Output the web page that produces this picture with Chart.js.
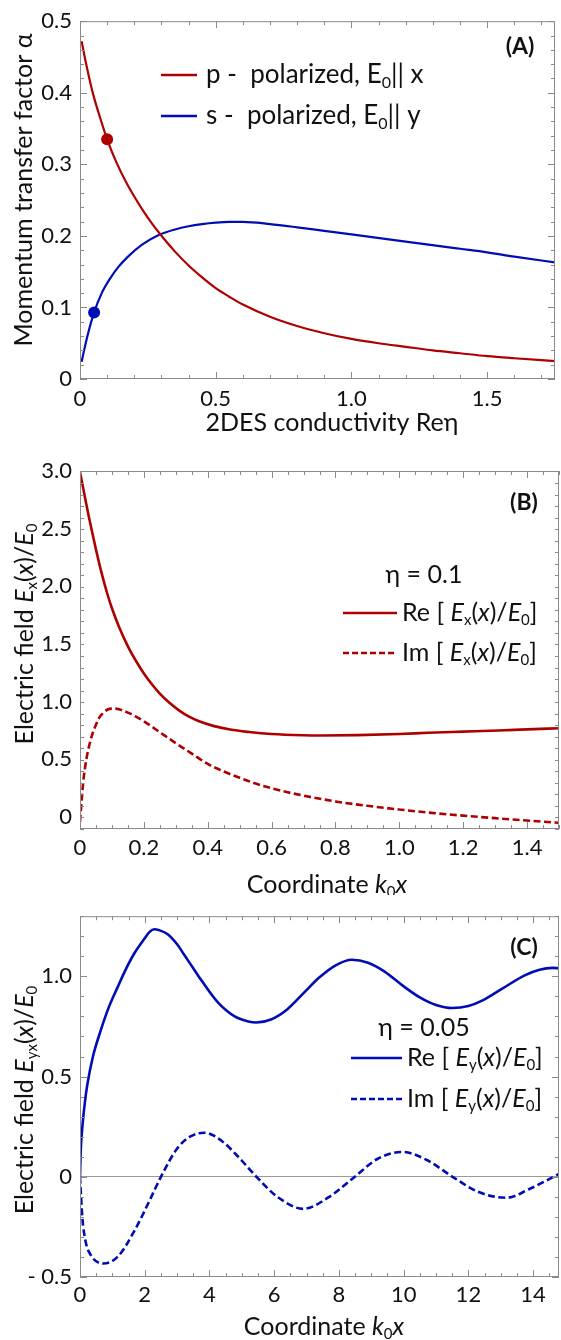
<!DOCTYPE html>
<html>
<head>
<meta charset="utf-8">
<script src="https://cdn.jsdelivr.net/npm/chart.js@4/dist/chart.umd.min.js"></script>
<style>
    body { margin: 0; background: #fff; }
    .panel { position: absolute; left: 0; width: 561px; }
</style>
</head>
<body>
<div class="panel" style="top:0;height:440px"><canvas id="chartA"></canvas></div>
<div class="panel" style="top:440px;height:455px"><canvas id="chartB"></canvas></div>
<div class="panel" style="top:895px;height:445px"><canvas id="chartC"></canvas></div>
<script>
// ---- Panel A data: momentum transfer factor vs Re eta ----
const etaP = [0.006, 0.02, 0.035, 0.049, 0.075, 0.1, 0.135, 0.174, 0.2, 0.231, 0.26, 0.292, 0.35, 0.402, 0.45, 0.5, 0.55, 0.6, 0.7, 0.8, 0.9, 1.0, 1.1, 1.2, 1.3, 1.4, 1.5, 1.6, 1.75];
const alphaP = [0.472, 0.445, 0.419, 0.397, 0.364, 0.335, 0.302, 0.272, 0.255, 0.236, 0.22, 0.204, 0.178, 0.158, 0.142, 0.127, 0.115, 0.104, 0.087, 0.074, 0.064, 0.056, 0.05, 0.045, 0.04, 0.036, 0.032, 0.029, 0.025];
const etaS = [0.006, 0.015, 0.03, 0.052, 0.08, 0.11, 0.14, 0.174, 0.23, 0.292, 0.35, 0.4, 0.45, 0.5, 0.55, 0.6, 0.7, 0.8, 0.9, 1.0, 1.2, 1.4, 1.5, 1.6, 1.75];
const alphaS = [0.024, 0.04, 0.064, 0.093, 0.12, 0.14, 0.156, 0.17, 0.188, 0.2015, 0.209, 0.2135, 0.2165, 0.2185, 0.2195, 0.2195, 0.2165, 0.212, 0.207, 0.202, 0.192, 0.182, 0.177, 0.171, 0.163];
const dotP = [0.1, 0.335];
const dotS = [0.052, 0.093];
const ticksAX = [0, 0.5, 1.0, 1.5];
const labelsAX = ['0', '0.5', '1.0', '1.5'];
const ticksAY = [0, 0.1, 0.2, 0.3, 0.4, 0.5];
const labelsAY = ['0', '0.1', '0.2', '0.3', '0.4', '0.5'];

// ---- Panel B data: E_x(x)/E_0 for eta = 0.1 ----
const xBRe = [0, 0.01, 0.02, 0.028, 0.04, 0.05, 0.06, 0.07, 0.085, 0.1, 0.122, 0.15, 0.175, 0.2, 0.227, 0.25, 0.28, 0.31, 0.34, 0.373, 0.42, 0.47, 0.53, 0.6, 0.7, 0.75, 0.87, 1.0, 1.09, 1.2, 1.31, 1.4, 1.5];
const reB = [2.99, 2.85, 2.71, 2.6, 2.445, 2.32, 2.2, 2.09, 1.94, 1.81, 1.65, 1.48, 1.355, 1.245, 1.145, 1.07, 0.99, 0.925, 0.872, 0.83, 0.788, 0.758, 0.737, 0.72, 0.709, 0.707, 0.71, 0.72, 0.73, 0.74, 0.75, 0.76, 0.77];
const xBIm = [0, 0.01, 0.02, 0.028, 0.04, 0.05, 0.06, 0.072, 0.085, 0.1, 0.11, 0.122, 0.15, 0.175, 0.2, 0.25, 0.3, 0.35, 0.4, 0.45, 0.5, 0.55, 0.6, 0.65, 0.7, 0.8, 0.9, 1.0, 1.1, 1.2, 1.3, 1.4, 1.5];
const imB = [-0.04, 0.3, 0.5, 0.61, 0.73, 0.8, 0.86, 0.9, 0.93, 0.94, 0.94, 0.935, 0.905, 0.87, 0.83, 0.735, 0.64, 0.55, 0.46, 0.395, 0.34, 0.29, 0.25, 0.215, 0.185, 0.135, 0.097, 0.065, 0.036, 0.012, -0.01, -0.03, -0.05];
const ticksBX = [0, 0.2, 0.4, 0.6, 0.8, 1.0, 1.2, 1.4];
const labelsBX = ['0', '0.2', '0.4', '0.6', '0.8', '1.0', '1.2', '1.4'];
const ticksBY = [0, 0.5, 1.0, 1.5, 2.0, 2.5, 3.0];
const labelsBY = ['0', '0.5', '1.0', '1.5', '2.0', '2.5', '3.0'];

// ---- Panel C data: E_y(x)/E_0 for eta = 0.05 ----
const xCRe = [0, 0.02, 0.071, 0.15, 0.227, 0.4, 0.64, 0.9, 1.16, 1.4, 1.68, 2.0, 2.15, 2.3, 2.45, 2.71, 3.0, 3.23, 3.5, 3.75, 4.26, 4.78, 5.2, 5.45, 5.9, 6.4, 6.9, 7.4, 7.9, 8.4, 8.9, 9.4, 9.96, 10.5, 11.0, 11.5, 12.0, 12.44, 13.06, 13.74, 14.2, 14.6, 14.8];
const reC = [0, 0.12, 0.245, 0.37, 0.46, 0.6, 0.73, 0.85, 0.945, 1.03, 1.115, 1.19, 1.222, 1.235, 1.23, 1.21, 1.16, 1.105, 1.04, 0.98, 0.87, 0.8, 0.775, 0.77, 0.785, 0.835, 0.915, 0.995, 1.055, 1.083, 1.068, 1.025, 0.955, 0.895, 0.857, 0.842, 0.852, 0.88, 0.94, 1.005, 1.033, 1.042, 1.04];
const xCIm = [0, 0.07, 0.17, 0.33, 0.72, 1.16, 1.68, 2.19, 2.5, 3.02, 3.4, 3.85, 4.37, 4.8, 5.2, 5.45, 6.1, 6.9, 7.7, 8.49, 9.2, 9.96, 10.7, 11.51, 12.3, 13.17, 13.9, 14.4, 14.8];
const imC = [0, -0.2, -0.32, -0.39, -0.433, -0.4, -0.27, -0.105, 0, 0.145, 0.2, 0.22, 0.18, 0.115, 0.045, 0, -0.1, -0.16, -0.1, 0, 0.09, 0.124, 0.085, 0, -0.075, -0.105, -0.06, -0.02, 0.015];
const ticksCX = [0, 2, 4, 6, 8, 10, 12, 14];
const labelsCX = ['0', '2', '4', '6', '8', '10', '12', '14'];
const ticksCY = [-0.5, 0, 0.5, 1.0];
const labelsCY = ['- 0.5', '0', '0.5', '1.0'];

const RED = 'rgb(175, 0, 0)';
const BLUE = 'rgb(0, 12, 180)';
const FRAME = '#8a8a8a';
const FAMILY = 'Lato, "Open Sans", sans-serif';

function toPoints(xs, ys) {
    return xs.map((x, i) => ({ x: x, y: ys[i] }));
}

// Text with italic / subscript pieces: parts = [[text, style]], style has i, s, b
function drawRich(ctx, parts, x, y, size, align) {
    const fontFor = st => (st.includes('i') ? 'italic ' : '') + (st.includes('b') ? 'bold ' : '') +
        Math.round(st.includes('s') ? size * 0.6 : size) + 'px ' + FAMILY;
    let w = 0;
    parts.forEach(([t, st]) => { ctx.font = fontFor(st); w += ctx.measureText(t).width; });
    let cx = align === 'center' ? x - w / 2 : (align === 'right' ? x - w : x);
    ctx.textAlign = 'left';
    ctx.textBaseline = 'middle';
    ctx.fillStyle = '#111';
    parts.forEach(([t, st]) => {
        ctx.font = fontFor(st);
        ctx.fillText(t, cx, y + (st.includes('s') ? size * 0.3 : 0));
        cx += ctx.measureText(t).width;
    });
}

// Mathematica style frame with inward ticks on all four sides
const framePlugin = {
    id: 'frame',
    afterDatasetsDraw(chart, args, opts) {
        const { ctx, chartArea: a } = chart;
        const xs = chart.scales.x, ys = chart.scales.y;
        ctx.save();
        ctx.strokeStyle = FRAME;
        ctx.lineWidth = 1;
        ctx.strokeRect(a.left + 0.5, a.top + 0.5, a.right - a.left - 1, a.bottom - a.top - 1);
        const near = (v, list) => list.some(m => Math.abs(m - v) < 1e-6);
        ctx.beginPath();
        for (let v = xs.min; v <= xs.max + 1e-9; v += opts.xMinor) {
            const len = near(v, opts.xMajor) ? 7 : 4;
            const px = Math.round(xs.getPixelForValue(v)) + 0.5;
            ctx.moveTo(px, a.bottom); ctx.lineTo(px, a.bottom - len);
            ctx.moveTo(px, a.top); ctx.lineTo(px, a.top + len);
        }
        for (let v = ys.min; v <= ys.max + 1e-9; v += opts.yMinor) {
            const len = near(v, opts.yMajor) ? 7 : 4;
            const py = Math.round(ys.getPixelForValue(v)) + 0.5;
            ctx.moveTo(a.left, py); ctx.lineTo(a.left + len, py);
            ctx.moveTo(a.right, py); ctx.lineTo(a.right - len, py);
        }
        ctx.stroke();
        ctx.restore();
    }
};

// Axis titles, legend and panel letters
const notesPlugin = {
    id: 'notes',
    afterDraw(chart, args, opts) {
        const ctx = chart.ctx;
        ctx.save();
        (opts.lines || []).forEach(l => {
            ctx.beginPath();
            ctx.strokeStyle = l.color;
            ctx.lineWidth = 2.5;
            ctx.setLineDash(l.dash || []);
            ctx.moveTo(l.x1, l.y); ctx.lineTo(l.x2, l.y);
            ctx.stroke();
        });
        ctx.setLineDash([]);
        (opts.texts || []).forEach(t => {
            ctx.save();
            ctx.translate(t.x, t.y);
            if (t.rotate) ctx.rotate(-Math.PI / 2);
            drawRich(ctx, t.parts, 0, 0, t.size, t.align || 'left');
            ctx.restore();
        });
        ctx.restore();
    }
};

function makeScales(xMin, xMax, xTicks, xLabels, xHeight, xPad, yMin, yMax, yTicks, yLabels, zeroLine) {
    const tickFont = { family: FAMILY, size: 22 };
    return {
        x: {
            type: 'linear', min: xMin, max: xMax,
            grid: { display: false, drawTicks: false },
            border: { display: false },
            afterBuildTicks: s => { s.ticks = xTicks.map(v => ({ value: v })); },
            ticks: { font: tickFont, color: '#111', padding: xPad, maxRotation: 0, autoSkip: false,
                callback: (v, i) => xLabels[i] },
            afterFit: s => { s.height = xHeight; }
        },
        y: {
            type: 'linear', min: yMin, max: yMax,
            grid: {
                display: zeroLine, drawTicks: false,
                color: c => (c.tick && c.tick.value === 0) ? '#999' : 'rgba(0,0,0,0)'
            },
            border: { display: false },
            afterBuildTicks: s => { s.ticks = yTicks.map(v => ({ value: v })); },
            ticks: { font: tickFont, color: '#111', padding: 8, autoSkip: false,
                callback: (v, i) => yLabels[i] },
            afterFit: s => { s.width = 80; }
        }
    };
}

function lineSet(xs, ys, color, dash, width) {
    return {
        data: toPoints(xs, ys),
        borderColor: color,
        borderWidth: width,
        borderDash: dash,
        pointRadius: 0,
        fill: false,
        cubicInterpolationMode: 'monotone'
    };
}

const EX = [['E', 'i'], ['x', 's'], ['(', ''], ['x', 'i'], [')/', ''], ['E', 'i'], ['0', 's']];
const EY = [['E', 'i'], ['y', 's'], ['(', ''], ['x', 'i'], [')/', ''], ['E', 'i'], ['0', 's']];
const COORD = [['Coordinate ', ''], ['k', 'i'], ['0', 's'], ['x', 'i']];

// Panel A
function initializePanelA() {
    new Chart(document.getElementById('chartA'), {
        type: 'line',
        data: {
            datasets: [
                lineSet(etaP, alphaP, RED, [], 2.2),
                lineSet(etaS, alphaS, BLUE, [], 2.2),
                { data: [{ x: dotP[0], y: dotP[1] }], pointRadius: 6, pointBackgroundColor: RED, pointBorderWidth: 0, showLine: false },
                { data: [{ x: dotS[0], y: dotS[1] }], pointRadius: 6, pointBackgroundColor: BLUE, pointBorderWidth: 0, showLine: false }
            ]
        },
        options: {
            responsive: true,
            maintainAspectRatio: false,
            animation: false,
            layout: { padding: { top: 19, right: 2, left: 0, bottom: 0 } },
            plugins: {
                legend: { display: false },
                tooltip: { enabled: false },
                frame: { xMinor: 0.1, xMajor: ticksAX, yMinor: 0.02, yMajor: ticksAY },
                notes: {
                    lines: [
                        { x1: 161, x2: 197, y: 75, color: RED },
                        { x1: 161, x2: 197, y: 116, color: BLUE }
                    ],
                    texts: [
                        { x: 520, y: 47, size: 23, align: 'center', parts: [['(A)', 'b']] },
                        { x: 206, y: 75, size: 26, parts: [['p -  polarized, E', ''], ['0', 's'], ['|| x', '']] },
                        { x: 206, y: 116, size: 26, parts: [['s -  polarized, E', ''], ['0', 's'], ['|| y', '']] },
                        { x: 332, y: 423, size: 25, align: 'center', parts: [['2DES conductivity Re\u03b7', '']] },
                        { x: 24, y: 190, size: 25, align: 'center', rotate: true, parts: [['Momentum transfer factor \u03b1', '']] }
                    ]
                }
            },
            scales: makeScales(0, 1.75, ticksAX, labelsAX, 61, 7, 0, 0.5, ticksAY, labelsAY, false)
        },
        plugins: [framePlugin, notesPlugin]
    });
}

// Panel B
function initializePanelB() {
    new Chart(document.getElementById('chartB'), {
        type: 'line',
        data: {
            datasets: [
                lineSet(xBRe, reB, RED, [], 2.6),
                lineSet(xBIm, imB, RED, [7, 3.5], 2.6)
            ]
        },
        options: {
            responsive: true,
            maintainAspectRatio: false,
            animation: false,
            layout: { padding: { top: 31, right: 2, left: 0, bottom: 0 } },
            plugins: {
                legend: { display: false },
                tooltip: { enabled: false },
                frame: { xMinor: 0.05, xMajor: ticksBX, yMinor: 0.1, yMajor: ticksBY },
                notes: {
                    lines: [
                        { x1: 343, x2: 397, y: 173, color: RED },
                        { x1: 343, x2: 397, y: 213, color: RED, dash: [6, 3] }
                    ],
                    texts: [
                        { x: 524, y: 63, size: 23, align: 'center', parts: [['(B)', 'b']] },
                        { x: 424, y: 135, size: 25, align: 'center', parts: [['\u03b7 = 0.1', '']] },
                        { x: 402, y: 173, size: 25, parts: [['Re [ ', '']].concat(EX, [[']', '']]) },
                        { x: 402, y: 213, size: 25, parts: [['Im [ ', '']].concat(EX, [[']', '']]) },
                        { x: 327, y: 445, size: 25, align: 'center', parts: COORD },
                        { x: 25, y: 194, size: 25, align: 'center', rotate: true, parts: [['Electric field ', '']].concat(EX) }
                    ]
                }
            },
            scales: makeScales(0, 1.5, ticksBX, labelsBX, 66, 6, -0.104, 3.0, ticksBY, labelsBY, false)
        },
        plugins: [framePlugin, notesPlugin]
    });
}

// Panel C
function initializePanelC() {
    new Chart(document.getElementById('chartC'), {
        type: 'line',
        data: {
            datasets: [
                lineSet(xCRe, reC, BLUE, [], 2.6),
                lineSet(xCIm, imC, BLUE, [7, 3.5], 2.6)
            ]
        },
        options: {
            responsive: true,
            maintainAspectRatio: false,
            animation: false,
            layout: { padding: { top: 21, right: 2, left: 0, bottom: 0 } },
            plugins: {
                legend: { display: false },
                tooltip: { enabled: false },
                frame: { xMinor: 0.5, xMajor: ticksCX, yMinor: 0.1, yMajor: ticksCY },
                notes: {
                    lines: [
                        { x1: 351, x2: 402, y: 163, color: BLUE },
                        { x1: 351, x2: 402, y: 204, color: BLUE, dash: [6, 3] }
                    ],
                    texts: [
                        { x: 524, y: 53, size: 23, align: 'center', parts: [['(C)', 'b']] },
                        { x: 424, y: 133, size: 25, align: 'center', parts: [['\u03b7 = 0.05', '']] },
                        { x: 407, y: 163, size: 25, parts: [['Re [ ', '']].concat(EY, [[']', '']]) },
                        { x: 407, y: 204, size: 25, parts: [['Im [ ', '']].concat(EY, [[']', '']]) },
                        { x: 324, y: 432, size: 25, align: 'center', parts: COORD },
                        { x: 25, y: 205, size: 25, align: 'center', rotate: true,
                          parts: [['Electric field ', ''], ['E', 'i'], ['yx', 's'], ['(', ''], ['x', 'i'], [')/', ''], ['E', 'i'], ['0', 's']] }
                    ]
                }
            },
            scales: makeScales(0, 14.8, ticksCX, labelsCX, 63, 5, -0.5, 1.3, ticksCY, labelsCY, true)
        },
        plugins: [framePlugin, notesPlugin]
    });
}

initializePanelA();
initializePanelB();
initializePanelC();
</script>
</body>
</html>
